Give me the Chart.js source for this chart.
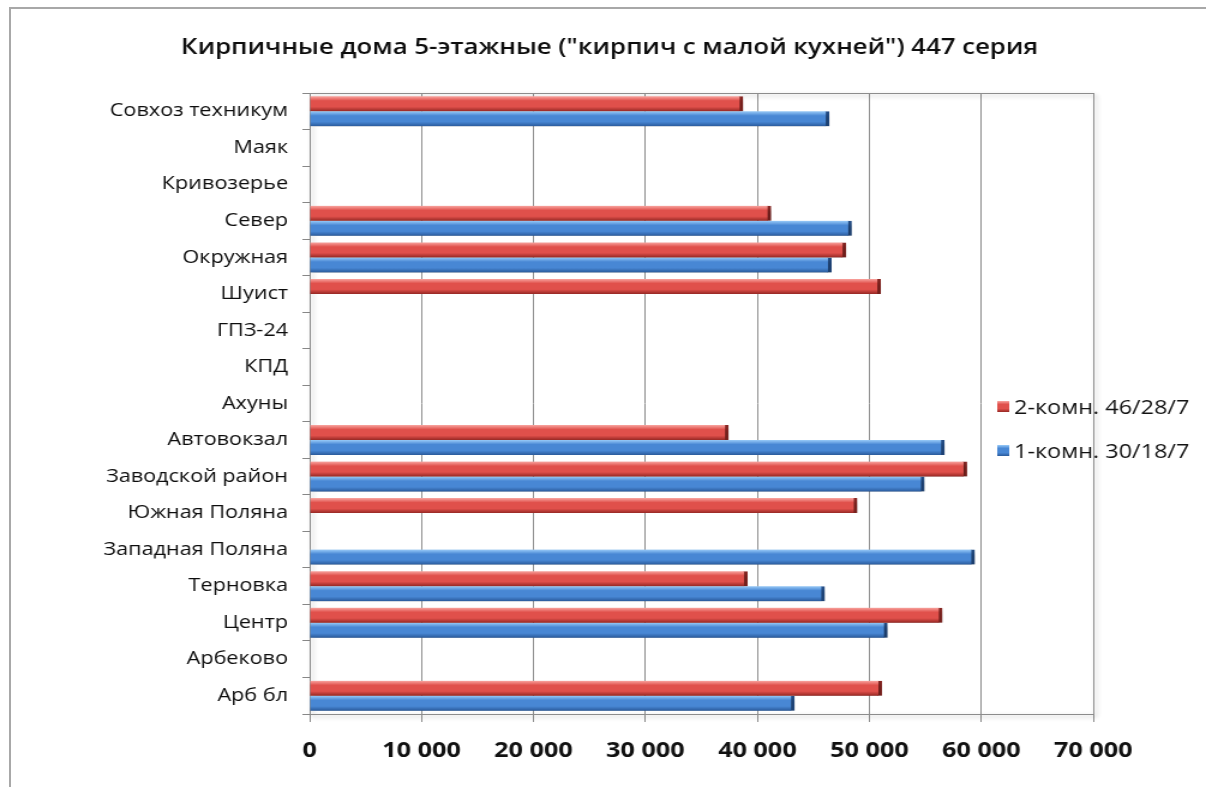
<!DOCTYPE html>
<html lang="ru">
<head>
<meta charset="utf-8">
<title>Кирпичные дома 5-этажные 447 серия</title>
<script src="https://cdn.jsdelivr.net/npm/chart.js@4/dist/chart.umd.min.js"></script>
<style>
    html, body { margin: 0; padding: 0; background: #fff; }
    .chart-box { position: relative; width: 1206px; height: 787px; overflow: hidden; }
    /* the chart is laid out narrower and widened, which gives the broad lettering */
    .chart-stretch { position: absolute; left: 0; top: 0; transform: scaleX(1.2); transform-origin: 0 0; }
    .chart-frame {
        position: absolute; left: 9px; top: 7px; right: -4px; bottom: -4px;
        border-top: 2px solid #a8a8a8; border-left: 2px solid #a8a8a8;
        pointer-events: none;
    }
</style>
</head>
<body>
<div class="chart-box">
    <div class="chart-stretch">
        <canvas id="price-chart" width="1005" height="787"></canvas>
    </div>
    <div class="chart-frame"></div>
</div>
<script>
// Districts, top to bottom
const DISTRICTS = [
    'Совхоз техникум', 'Маяк', 'Кривозерье', 'Север', 'Окружная', 'Шуист',
    'ГПЗ-24', 'КПД', 'Ахуны', 'Автовокзал', 'Заводской район', 'Южная Поляна',
    'Западная Поляна', 'Терновка', 'Центр', 'Арбеково', 'Арб бл'
];

// Price per m², 2-room flats 46/28/7
const ROOM2_PRICES = [
    38700, null, null, 41200, 47900, 51000,
    null, null, null, 37400, 58700, 48900,
    null, 39100, 56500, null, 51100
];

// Price per m², 1-room flats 30/18/7
const ROOM1_PRICES = [
    46400, null, null, 48400, 46600, null,
    null, null, null, 56700, 54900, null,
    59400, 46000, 51600, null, 43300
];

const X_MAX = 70000;
const X_STEP = 10000;

const TITLE = 'Кирпичные дома 5-этажные ("кирпич с малой кухней") 447 серия';
const LABEL_FONT = '"Open Sans", "DejaVu Sans", sans-serif';
const BAR_SIZE = 15;

// light top edge, body, dark bottom edge
const RED_SHADE = ['#f9a5a0', '#e0504b', '#962824'];
const BLUE_SHADE = ['#98caf8', '#4887d4', '#2a5a9b'];

function thousands(v) {
    return String(v).replace(/\B(?=(\d{3})+(?!\d))/g, ' ');
}

function shadeGradient(c, top, h, shade) {
    const g = c.createLinearGradient(0, top, 0, top + h);
    g.addColorStop(0, shade[0]);
    g.addColorStop(0.3, shade[1]);
    g.addColorStop(0.7, shade[1]);
    g.addColorStop(1, shade[2]);
    return g;
}

// bars are grouped with a fixed thickness, so each bar's top edge is known from the category pixel
function barFill(shade) {
    return ctx => {
        const y = ctx.chart.scales.y;
        if (!y || ctx.dataIndex == null) return shade[1];
        const top = y.getPixelForValue(ctx.dataIndex) - BAR_SIZE + ctx.datasetIndex * BAR_SIZE;
        if (!Number.isFinite(top)) return shade[1];
        return shadeGradient(ctx.chart.ctx, top, BAR_SIZE, shade);
    };
}

const barShadow = {
    id: 'barShadow',
    beforeDatasetsDraw(chart) {
        const c = chart.ctx;
        c.save();
        c.shadowColor = 'rgba(0, 0, 0, 0.35)';
        c.shadowBlur = 5;
        c.shadowOffsetX = 2;
        c.shadowOffsetY = 3;
    },
    afterDatasetsDraw(chart) {
        chart.ctx.restore();
    }
};

const plotFrame = {
    id: 'plotFrame',
    beforeDatasetsDraw(chart) {
        const { ctx: c, chartArea: a } = chart;
        c.save();
        c.shadowColor = 'rgba(0, 0, 0, 0.3)';
        c.shadowBlur = 4;
        c.shadowOffsetX = 2;
        c.shadowOffsetY = 2;
        c.strokeStyle = '#8c8c8c';
        c.lineWidth = 1;
        c.strokeRect(a.left + 0.5, a.top + 0.5, a.right - a.left, a.bottom - a.top);
        c.restore();
    }
};

// title centred on the whole chart, not on the plot area
const chartTitle = {
    id: 'chartTitle',
    afterDraw(chart, args, opts) {
        const c = chart.ctx;
        c.save();
        c.font = `600 21.5px ${LABEL_FONT}`;
        c.fillStyle = '#0d0d0d';
        c.textAlign = 'center';
        c.textBaseline = 'middle';
        c.fillText(opts.text, opts.x, opts.y);
        c.restore();
    }
};

const sideLegend = {
    id: 'sideLegend',
    afterDraw(chart, args, opts) {
        const c = chart.ctx;
        c.save();
        c.font = `19.5px ${LABEL_FONT}`;
        c.textBaseline = 'middle';
        chart.data.datasets.forEach((ds, i) => {
            const y = opts.top + i * opts.gap;
            c.fillStyle = shadeGradient(c, y - 6, 11, ds.shade);
            c.fillRect(opts.left, y - 6, 10, 11);
            c.fillStyle = '#111';
            c.fillText(ds.label, opts.left + 14, y + 1);
        });
        c.restore();
    }
};

new Chart(document.getElementById('price-chart'), {
    type: 'bar',
    data: {
        labels: DISTRICTS,
        datasets: [
            {
                label: '2-комн. 46/28/7',
                data: ROOM2_PRICES,
                shade: RED_SHADE,
                backgroundColor: barFill(RED_SHADE),
                borderColor: '#8a2622',
                borderWidth: { top: 0, bottom: 0, left: 0, right: 3 },
                borderSkipped: false
            },
            {
                label: '1-комн. 30/18/7',
                data: ROOM1_PRICES,
                shade: BLUE_SHADE,
                backgroundColor: barFill(BLUE_SHADE),
                borderColor: '#244f8a',
                borderWidth: { top: 0, bottom: 0, left: 0, right: 3 },
                borderSkipped: false
            }
        ]
    },
    options: {
        indexAxis: 'y',
        responsive: false,
        animation: false,
        barThickness: BAR_SIZE,
        layout: { padding: { left: 10, right: 94, top: 93, bottom: 23 } },
        plugins: {
            legend: { display: false },
            tooltip: { enabled: false },
            chartTitle: { text: TITLE, x: 508, y: 48 },
            sideLegend: { left: 831, top: 407, gap: 44 }
        },
        scales: {
            x: {
                min: 0,
                max: X_MAX,
                afterFit: scale => { scale.height = 50; },
                ticks: {
                    stepSize: X_STEP,
                    color: '#111',
                    padding: 16,
                    font: { family: LABEL_FONT, size: 21, weight: 'bold' },
                    callback: v => thousands(v)
                },
                grid: { color: '#8c8c8c', tickLength: 8 },
                border: { color: '#8c8c8c' }
            },
            y: {
                afterFit: scale => { scale.width = 248; },
                ticks: {
                    color: '#0d0d0d',
                    padding: 12,
                    font: { family: LABEL_FONT, size: 18, weight: '500' }
                },
                grid: { drawOnChartArea: false, color: '#888', tickLength: 6 },
                border: { color: '#777' }
            }
        }
    },
    plugins: [plotFrame, barShadow, chartTitle, sideLegend]
});
</script>
</body>
</html>
